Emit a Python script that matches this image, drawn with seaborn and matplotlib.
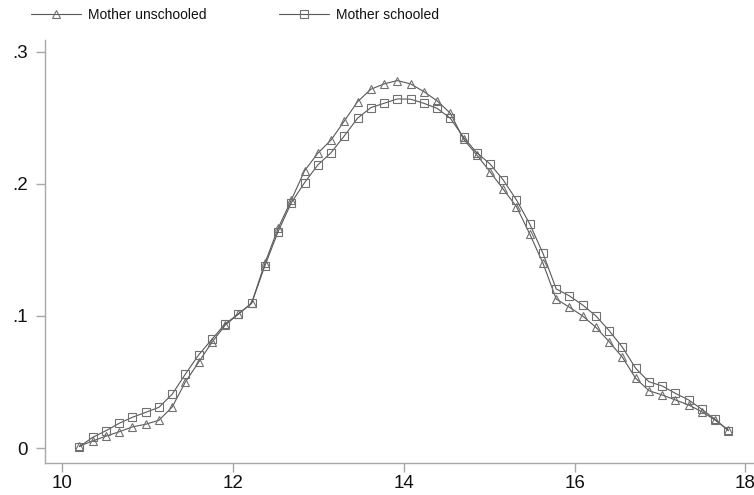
import pandas as pd
import numpy as np
import matplotlib
matplotlib.use('Agg')
import matplotlib.pyplot as plt
import seaborn as sns

# kdensity grid: 50 evaluation points from 10.2 to 17.8
x_min, x_max, n_points = 10.2, 17.8, 50

unschooled = [0.0015, 0.0053, 0.0090, 0.0123, 0.0160, 0.0180, 0.0210, 0.0310, 0.0500, 0.0650,
              0.0800, 0.0930, 0.1015, 0.1096, 0.1399, 0.1664, 0.1879, 0.2100, 0.2233, 0.2333,
              0.2477, 0.2623, 0.2717, 0.2758, 0.2783, 0.2758, 0.2700, 0.2630, 0.2536, 0.2340,
              0.2220, 0.2093, 0.1960, 0.1828, 0.1621, 0.1400, 0.1129, 0.1066, 0.1000, 0.0914,
              0.0805, 0.0687, 0.0528, 0.0434, 0.0402, 0.0364, 0.0326, 0.0275, 0.0212, 0.0136]
schooled = [0.0010, 0.0081, 0.0131, 0.0187, 0.0233, 0.0270, 0.0308, 0.0407, 0.0560, 0.0705,
            0.0823, 0.0940, 0.1015, 0.1096, 0.1379, 0.1639, 0.1858, 0.2010, 0.2144, 0.2237,
            0.2364, 0.2498, 0.2578, 0.2611, 0.2644, 0.2642, 0.2611, 0.2573, 0.2498, 0.2354,
            0.2237, 0.2152, 0.2030, 0.1879, 0.1697, 0.1475, 0.1205, 0.1152, 0.1083, 0.1000,
            0.0889, 0.0763, 0.0604, 0.0502, 0.0470, 0.0414, 0.0364, 0.0293, 0.0217, 0.0131]
labels = ['Mother unschooled', 'Mother schooled']
x_ticks = [10, 12, 14, 16, 18]
y_ticks = [0, 0.1, 0.2, 0.3]
y_ticklabels = ['0', '.1', '.2', '.3']

grid = np.linspace(x_min, x_max, n_points)
df = pd.concat([
    pd.DataFrame({'age': grid, 'density': unschooled, 'group': labels[0]}),
    pd.DataFrame({'age': grid, 'density': schooled, 'group': labels[1]}),
])

sns.set_style('ticks')
plt.rcParams['font.family'] = ['Liberation Sans', 'DejaVu Sans']

line_col = '#585858'
axis_col = '#a8a8a8'

fig = plt.figure(figsize=(7.54, 4.95), dpi=100)
ax = fig.add_axes([0.0597, 0.0646, 0.9403, 0.8545])

sns.lineplot(data=df, x='age', y='density', style='group', markers=['^', 's'], dashes=False,
             color=line_col, linewidth=0.8, markersize=6, markerfacecolor='none',
             markeredgecolor='#707070', markeredgewidth=0.8, legend=False, ax=ax, sort=False)

ax.set_xlim(9.797, 18.10)
ax.set_ylim(-0.01136, 0.309)
ax.set_xticks(x_ticks)
ax.set_xticklabels([str(t) for t in x_ticks])
ax.set_yticks(y_ticks)
ax.set_yticklabels(y_ticklabels)
ax.set_xlabel('')
ax.set_ylabel('')
sns.despine(ax=ax)
for s in ['left', 'bottom']:
    ax.spines[s].set_color(axis_col)
    ax.spines[s].set_linewidth(1.0)
ax.tick_params(axis='both', colors=axis_col, labelcolor='#111111', labelsize=13.5,
               length=6.5, width=1.0)
ax.tick_params(axis='x', pad=2)
ax.tick_params(axis='y', pad=6)

lines = ax.get_lines()
# two legend entries placed at the top, one per column
for line, lab, xpos in zip(lines[:2], labels, [0.0411, 0.370]):
    fig.legend([line], [lab], loc='center left', bbox_to_anchor=(xpos, 0.97),
               frameon=False, fontsize=10, handlelength=3.6, handletextpad=0.5,
               borderaxespad=0, borderpad=0, labelcolor='#111111')

fig.savefig('out.png', dpi=100)
